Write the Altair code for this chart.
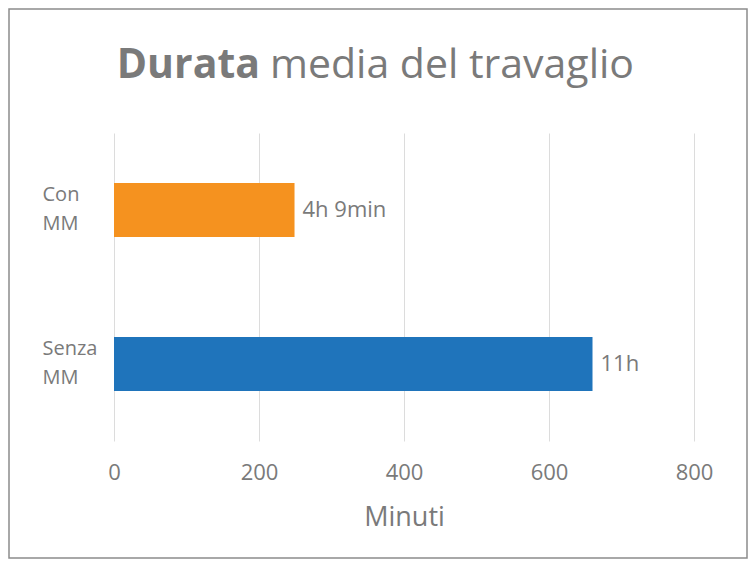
import altair as alt
import pandas as pd

categories = ["Con MM", "Senza MM"]
minutes = [249, 660]
value_labels = ["4h 9min", "11h"]
bar_colors = ["#F5921F", "#1F74BB"]
x_ticks = [0, 200, 400, 600, 800]
title_bold = "Durata"
title_rest = "media del travaglio"
x_title = "Minuti"

FONT = "Open Sans"
GRAY = "#7a7a7a"

df = pd.DataFrame({"cat": categories, "min": minutes, "lab": value_labels})

W, H = 580, 308
PAD = {"left": 106, "top": 125, "right": 54, "bottom": 118}

base = alt.Chart(df)

bars = base.mark_bar(size=54).encode(
    y=alt.Y("cat:N", sort=categories,
            scale=alt.Scale(paddingInner=0, paddingOuter=0),
            axis=alt.Axis(title=None, domain=False, ticks=False, tickSize=0,
                          grid=False,
                          labelAlign="left", labelPadding=72, labelBaseline="middle",
                          labelOffset=-15,
                          labelFontSize=20, labelLineHeight=29, labelColor=GRAY,
                          labelFont=FONT, labelExpr="split(datum.label, ' ')")),
    x=alt.X("min:Q", scale=alt.Scale(domain=[0, 800], nice=False),
            axis=alt.Axis(title=x_title, values=x_ticks, domain=False, ticks=False,
                          tickSize=0, grid=True, gridColor="#dcdcdc", gridWidth=1,
                          labelFlush=False,
                          labelFontSize=22, labelColor=GRAY, labelFont=FONT,
                          labelPadding=31, labelBaseline="middle",
                          titleFontSize=27, titleColor=GRAY, titleFont=FONT,
                          titleFontWeight="normal", titleY=84,
                          titleBaseline="alphabetic")),
    color=alt.Color("cat:N", scale=alt.Scale(domain=categories, range=bar_colors),
                    legend=None),
)

texts = base.mark_text(align="left", baseline="middle", dx=8, fontSize=22,
                       font=FONT, color=GRAY).encode(
    y=alt.Y("cat:N", sort=categories),
    x=alt.X("min:Q"),
    text="lab:N",
)

t1 = alt.Chart(pd.DataFrame({"t": [title_bold]})).mark_text(
    align="right", baseline="alphabetic", fontSize=41, fontWeight="bold",
    font=FONT, color=GRAY).encode(
    x=alt.value(146), y=alt.value(-55), text="t:N")

t2 = alt.Chart(pd.DataFrame({"t": [title_rest]})).mark_text(
    align="left", baseline="alphabetic", fontSize=41, fontWeight="normal",
    font=FONT, color=GRAY).encode(
    x=alt.value(156), y=alt.value(-55), text="t:N")

border = alt.Chart(pd.DataFrame({"b": [1]})).mark_rect(
    fill=None, stroke="#8c8c8c", strokeWidth=1.5).encode(
    x=alt.value(-PAD["left"] + 1), x2=alt.value(W + PAD["right"] - 1),
    y=alt.value(-PAD["top"] + 1), y2=alt.value(H + PAD["bottom"] - 1))

chart = alt.layer(bars, texts, t1, t2, border).properties(
    width=W, height=H, autosize="none", padding=PAD, background="white",
).configure_view(stroke=None)

chart.save("out.html", embed_options={"renderer": "svg", "actions": False})
